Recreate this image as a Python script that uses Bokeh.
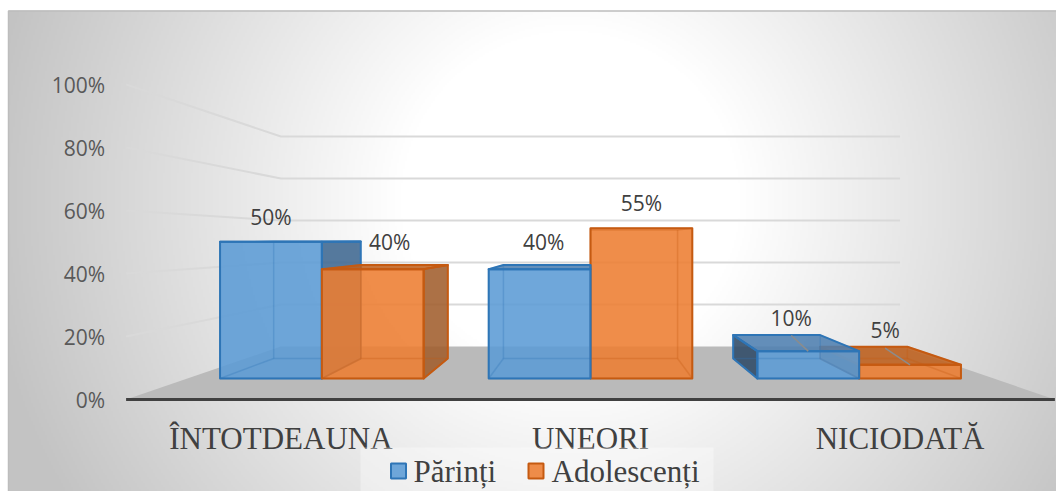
import numpy as np
from bokeh.plotting import figure
from bokeh.models import Range1d
from bokeh.core.properties import value
from bokeh.embed import file_html
from bokeh.resources import INLINE

# ---- data -------------------------------------------------------------
categories = ["ÎNTOTDEAUNA", "UNEORI", "NICIODATĂ"]
series_names = ["Părinți", "Adolescenți"]
parinti = [50, 40, 10]
adolescenti = [40, 55, 5]
y_ticks = [0, 20, 40, 60, 80, 100]
y_tick_labels = ["0%", "20%", "40%", "60%", "80%", "100%"]

# ---- 3-D projection (one-point perspective) ----------------------------
W, H = 1056, 491
VP_X, VP_Y = 590.0, 240.0        # vanishing point on screen
X_LEFT, CAT_W = 125.6, 309.6     # front plane: category band geometry
Y_BASE, PX_PER_PCT = 399.0, 3.15 # front plane: value scale
DIST = 2.0                       # camera distance in depth units
BAR_W = 0.379                    # bar width in category units
Z_FRONT, Z_BACK = 0.305, 0.695   # bar depth inside the floor (0..1)


def proj(xw, v, z):
    fx = X_LEFT + np.asarray(xw, float) * CAT_W
    fy = Y_BASE - np.asarray(v, float) * PX_PER_PCT
    s = DIST / (DIST + np.asarray(z, float))
    return VP_X + s * (fx - VP_X), VP_Y + s * (fy - VP_Y)


def poly(pts):
    xs, ys = [], []
    for (a, b, c) in pts:
        x, y = proj(a, b, c)
        xs.append(float(x))
        ys.append(float(y))
    return xs, ys


p = figure(width=W, height=H, x_range=Range1d(0, W), y_range=Range1d(H, 0),
           x_axis_type=None, y_axis_type=None, output_backend="svg",
           toolbar_location=None, min_border=0)
p.grid.visible = False
p.outline_line_color = None
p.background_fill_color = "white"
p.border_fill_color = "white"

# ---- chart-area background: soft radial grey gradient -----------------
AX0, AY0 = 8, 10
aw, ah = W - AX0, H - AY0
step = 2
gx = AX0 + (np.arange(aw // step) + 0.5) * step
gy = AY0 + (np.arange(ah // step + 1) + 0.5) * step
GX, GY = np.meshgrid(gx, gy)
d = np.sqrt((GX - 570.0) ** 2 + (GY - 200.0) ** 2)
t = np.clip((d - 170.0) / 420.0, 0, 1)
g = (255 - 60 * t).astype(np.uint8)
img = np.empty(g.shape, dtype=np.uint32)
view = img.view(dtype=np.uint8).reshape(g.shape + (4,))
view[..., 0] = g
view[..., 1] = g
view[..., 2] = g
view[..., 3] = 255
p.image_rgba(image=[img], x=AX0, y=AY0, dw=aw, dh=ah)
p.line([AX0, AX0, W], [H, AY0 + 0.5, AY0 + 0.5], line_color="#bdbdbd", line_width=1.5)

# ---- walls: gridlines on side wall and back wall ----------------------
grid_xs, grid_ys = [], []
for v in y_ticks[1:]:
    xs, ys = poly([(0, v, 0), (0, v, 1), (len(categories), v, 1)])
    grid_xs.append(xs)
    grid_ys.append(ys)
p.multi_line(grid_xs, grid_ys, line_color="#d9d9d9", line_width=2)

# ---- floor -------------------------------------------------------------
n = len(categories)
fx, fy = poly([(0, 0, 0), (n, 0, 0), (n, 0, 1), (0, 0, 1)])
p.patch(fx, fy, fill_color="#bababa", line_color=None)
ax_x, ax_y = poly([(0, 0, 0), (n, 0, 0)])
p.line(ax_x, ax_y, line_color="#404040", line_width=3)

# ---- bars --------------------------------------------------------------
styles = [
    dict(front="#5b9bd5", side="#3f6891", top="#4f80b0", left="#2f4a66", edge="#2e75b6"),
    dict(front="#ed7d31", side="#a05d2c", top="#c0621f", left="#8f4f22", edge="#c55a11"),
]
bars = []
for i in range(n):
    c = i + 0.5
    bars.append((c - BAR_W, c, parinti[i], styles[0]))
    bars.append((c, c + BAR_W, adolescenti[i], styles[1]))

# painter's order: bars farther from the vanishing point first
def center_dist(b):
    cx = X_LEFT + (b[0] + b[1]) / 2 * CAT_W
    return -abs(cx - VP_X)

FA = 0.88
for (x0, x1, v, st) in sorted(bars, key=center_dist):
    zf, zb = Z_FRONT, Z_BACK
    faces = []
    fx0 = X_LEFT + x0 * CAT_W
    fx1 = X_LEFT + x1 * CAT_W
    fytop = Y_BASE - v * PX_PER_PCT
    if fx1 < VP_X - 0.5:
        faces.append((poly([(x1, 0, zf), (x1, 0, zb), (x1, v, zb), (x1, v, zf)]), st["side"]))
    if fx0 > VP_X + 0.5:
        faces.append((poly([(x0, 0, zf), (x0, 0, zb), (x0, v, zb), (x0, v, zf)]), st["left"]))
    if fytop > VP_Y:
        faces.append((poly([(x0, v, zf), (x1, v, zf), (x1, v, zb), (x0, v, zb)]), st["top"]))
    faces.append((poly([(x0, 0, zf), (x1, 0, zf), (x1, v, zf), (x0, v, zf)]), st["front"]))

    for (xs, ys), col in faces:
        p.patch(xs, ys, fill_color=col, fill_alpha=FA, line_color=None)

    # edges seen through the translucent box
    ex, ey = [], []
    for a in (x0, x1):
        for b in (0, v):
            xs, ys = poly([(a, b, zf), (a, b, zb)]); ex.append(xs); ey.append(ys)
    for a in (x0, x1):
        for c in (zf, zb):
            xs, ys = poly([(a, 0, c), (a, v, c)]); ex.append(xs); ey.append(ys)
    for b in (0, v):
        for c in (zf, zb):
            xs, ys = poly([(x0, b, c), (x1, b, c)]); ex.append(xs); ey.append(ys)
    p.multi_line(ex, ey, line_color=st["edge"], line_alpha=0.3, line_width=1.5)

    for (xs, ys), col in faces:
        p.patch(xs, ys, fill_color=None, line_color=st["edge"], line_width=2,
                line_join="round")

# ---- data labels -------------------------------------------------------
lab_x, lab_y, lab_t = [], [], []
lead_xs, lead_ys = [], []
for (x0, x1, v, st) in bars:
    fytop = Y_BASE - v * PX_PER_PCT
    zl = Z_FRONT if fytop <= VP_Y + 5 else 0.5
    cx = (x0 + x1) / 2
    sx, sy = proj(cx, v, zl)
    ly = float(sy) - 25
    lab_x.append(float(sx))
    lab_y.append(ly)
    lab_t.append(f"{v}%")
    if v < 20:
        tx, ty = proj(cx, v, Z_FRONT)
        lead_xs.append([float(sx), float(tx)])
        lead_ys.append([ly + 18, float(ty)])
p.multi_line(lead_xs, lead_ys, line_color="#8c8c8c", line_width=1.5)
p.text(lab_x, lab_y, text=lab_t, text_font=value("Open Sans"),
       text_font_size=value("21px"), text_color="#404040",
       text_align="center", text_baseline="middle")

# ---- value axis labels -------------------------------------------------
tx = [X_LEFT - 21] * len(y_ticks)
ty = [Y_BASE - v * PX_PER_PCT for v in y_ticks]
p.text(tx, ty, text=y_tick_labels, text_font=value("Open Sans"),
       text_font_size=value("21px"), text_color="#595959",
       text_align="right", text_baseline="middle")

# ---- category labels ---------------------------------------------------
cx = [float(proj(i + 0.5, 0, 0)[0]) for i in range(n)]
p.text(cx, [Y_BASE + 39] * n, text=categories, text_font=value("Liberation Serif"),
       text_font_size=value("31px"), text_color="#404040",
       text_align="center", text_baseline="middle")

# ---- legend ------------------------------------------------------------
p.quad(left=360, right=713, top=447, bottom=H, fill_color="white", fill_alpha=0.35,
       line_color=None)
leg_sq_x = [398, 535.5]
leg_tx = [413, 551]
p.rect(leg_sq_x, [470.5, 470.5], width=15, height=15,
       fill_color=[styles[0]["front"], styles[1]["front"]], fill_alpha=0.88,
       line_color=[styles[0]["edge"], styles[1]["edge"]], line_width=2)
p.text(leg_tx, [470.5, 470.5], text=series_names, text_font=value("Liberation Serif"),
       text_font_size=value("31px"), text_color="#404040",
       text_align="left", text_baseline="middle")

open("out.html", "w").write(file_html(p, INLINE))
